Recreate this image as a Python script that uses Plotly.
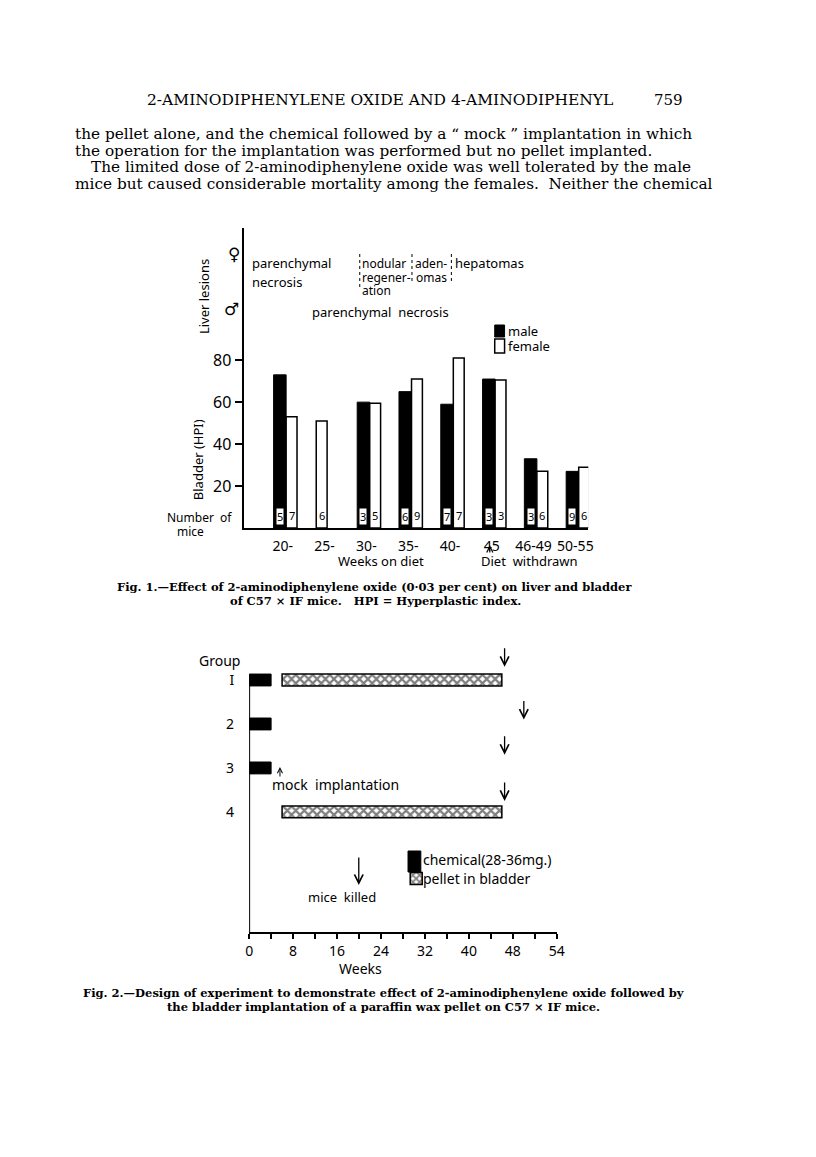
import plotly.graph_objects as go

# the page body adds an 8 px margin, so the figure is drawn 8 px in from the corner
FW, FH = 808, 1149
SANS = "Noto Sans"
SERIF = "DejaVu Serif"

# ---- Fig. 1 data: bladder HPI by weeks on diet ----
week_groups = ["20-", "25-", "30-", "35-", "40-", "45", "46-49", "50-55"]
male_hpi = [73, None, 60, 65, 59, 71, 33, 27]
female_hpi = [53, 51, 59.5, 71, 81, 70.5, 27, 29]
male_mice = ["5", "", "3", "6", "7", "3", "3", "9"]
female_mice = ["7", "6", "5", "9", "7", "3", "6", "6"]
hpi_ticks = [20, 40, 60, 80]

# ---- Fig. 2 data: experiment design ----
groups = [1, 2, 3, 4]
group_labels = ["I", "2", "3", "4"]
chemical_weeks = [4, 4, 4, None]
pellet_start = [6, None, None, 6]
pellet_end = [46, None, None, 46]
killed_week = [46.5, 50, 46.5, 46.5]
week_ticks = [0, 4, 8, 12, 16, 20, 24, 28, 32, 36, 40, 44, 48, 52, 56]
week_labels = ["0", "", "8", "", "16", "", "24", "", "32", "", "40", "", "48", "", "54"]

pellet_len = [e - s if s is not None else None for s, e in zip(pellet_start, pellet_end)]
idx = list(range(len(week_groups)))
female_offset = [0.08 if m is not None else -0.2 for m in male_hpi]


def px(x):
    return (x - 8) / FW


def py(y):
    return 1 - (y - 8) / FH


def note(text, x, y, size=13, xanchor="left", family=SANS, **kw):
    return dict(text=text, x=px(x), y=py(y), xref="paper", yref="paper",
                xanchor=xanchor, yanchor="middle", showarrow=False,
                font=dict(size=size, family=family, color="black"), **kw)


def arrow(x, y, ay, xref="paper", yref="paper", size=1.3, width=1.3):
    return dict(x=x, y=y, xref=xref, yref=yref, ax=0, ay=ay, text="", showarrow=True,
                arrowhead=5, arrowsize=size, arrowwidth=width, arrowcolor="black")


fig = go.Figure()

fig.add_trace(go.Bar(x=idx, y=male_hpi, width=0.3, offset=-0.22,
                     marker=dict(color="black", line=dict(color="black", width=1)),
                     showlegend=False, xaxis="x", yaxis="y"))
fig.add_trace(go.Bar(x=idx, y=female_hpi, width=0.26, offset=female_offset,
                     marker=dict(color="white", line=dict(color="black", width=1.5)),
                     showlegend=False, xaxis="x", yaxis="y"))

fig.add_trace(go.Bar(y=groups, x=chemical_weeks, base=0, orientation="h", width=0.27,
                     marker=dict(color="black", line=dict(color="black", width=1)),
                     name="chemical(28-36mg.)", showlegend=False, xaxis="x2", yaxis="y2"))
fig.add_trace(go.Bar(y=groups, x=pellet_len, base=pellet_start, orientation="h", width=0.27,
                     marker=dict(color="white", line=dict(color="black", width=1.5),
                                 pattern=dict(shape="x", fgcolor="black", bgcolor="white",
                                              size=6, solidity=0.6)),
                     name=" ", legend="legend2", xaxis="x2", yaxis="y2"))

ann = []

# mice counts at the foot of the bars
for i in idx:
    if male_mice[i]:
        ann.append(dict(text=male_mice[i], x=i - 0.07, y=0, xref="x", yref="y",
                        yanchor="bottom", yshift=3, showarrow=False, bgcolor="white",
                        borderpad=0, font=dict(size=11, family=SANS, color="black")))
    ann.append(dict(text=female_mice[i], x=i + female_offset[i] + 0.13, y=0, xref="x", yref="y",
                    yanchor="bottom", yshift=3, showarrow=False,
                    font=dict(size=11, family=SANS, color="black")))

# mice killed arrows
tip_shift = [0.3, 0.1, 0.3, 0.25]
for g, wk, s in zip(groups, killed_week, tip_shift):
    ann.append(arrow(wk, g - s, -20, xref="x2", yref="y2"))

# page text
ann += [
    note("2-AMINODIPHENYLENE OXIDE AND 4-AMINODIPHENYL", 382, 100, size=15.5, xanchor="center", family=SERIF),
    note("759", 691, 100, size=15, xanchor="right", family=SERIF),
    note("the pellet alone, and the chemical followed by a \u201c mock \u201d implantation in which", 70, 134, size=15.3, family=SERIF),
    note("the operation for the implantation was performed but no pellet implanted.", 70, 151, size=15.3, family=SERIF),
    note("The limited dose of 2-aminodiphenylene oxide was well tolerated by the male", 86, 167, size=15.3, family=SERIF),
    note("mice but caused considerable mortality among the females.  Neither the chemical", 70, 184, size=15.3, family=SERIF),
    note("<b>Fig. 1.\u2014Effect of 2-aminodiphenylene oxide (0\u00b703 per cent) on liver and bladder</b>", 376, 587, size=11.5, xanchor="center", family=SERIF),
    note("<b>of C57 \u00d7 IF mice.   HPI = Hyperplastic index.</b>", 377, 601, size=11.5, xanchor="center", family=SERIF),
    note("<b>Fig. 2.\u2014Design of experiment to demonstrate effect of 2-aminodiphenylene oxide followed by</b>", 385, 993, size=11.5, xanchor="center", family=SERIF),
    note("<b>the bladder implantation of a paraffin wax pellet on C57 \u00d7 IF mice.</b>", 385, 1007, size=11.5, xanchor="center", family=SERIF),
]

# Fig. 1 labels
ann += [
    note("Liver lesions", 203, 297, size=13, xanchor="center", textangle=-90),
    note("\u2640", 233, 254, size=17, xanchor="center", family="DejaVu Sans"),
    note("\u2642", 231, 309, size=17, xanchor="center", family="DejaVu Sans"),
    note("parenchymal", 250, 263),
    note("necrosis", 250, 282),
    note("nodular", 361, 263, size=12),
    note("regener-", 361, 277, size=12),
    note("ation", 361, 290, size=12),
    note("aden-", 415, 263, size=12),
    note("omas", 416, 277, size=12),
    note("hepatomas", 456, 263),
    note("parenchymal  necrosis", 310, 312),
    note("male", 509, 331),
    note("female", 509, 346),
    note("Bladder (HPI)", 197, 460, size=13, xanchor="center", textangle=-90),
    note("Number  of", 163, 517, size=12),
    note("mice", 189, 531, size=12, xanchor="center"),
    note("Weeks on diet", 383, 561, xanchor="center"),
    note("Diet  withdrawn", 482, 561),
    arrow(px(493), py(545), 9, size=1, width=1.2),
]

# Fig. 2 labels
ann += [
    note("Group", 219, 660, size=14, xanchor="center"),
    note("mock  implantation", 270, 784, size=14),
    arrow(px(280), py(767), 11, size=1, width=1),
    arrow(px(360), py(885), -29),
    note("mice  killed", 343, 897, size=13, xanchor="center"),
    note("Weeks", 362, 968, size=14, xanchor="center"),
    note("chemical(28-36mg.)", 423, 859, size=14),
    note("pellet in bladder", 423, 878, size=14),
]

shapes = [
    # top legend swatches
    dict(type="rect", xref="paper", yref="paper", x0=px(498), x1=px(508), y0=py(337), y1=py(325),
         fillcolor="black", line=dict(color="black", width=1)),
    dict(type="rect", xref="paper", yref="paper", x0=px(498), x1=px(508), y0=py(353), y1=py(339),
         fillcolor="white", line=dict(color="black", width=1.5)),
    # Fig. 2 chemical swatch
    dict(type="rect", xref="paper", yref="paper", x0=px(410), x1=px(423), y0=py(872), y1=py(851),
         fillcolor="black", line=dict(color="black", width=1)),
    # Fig. 2 vertical axis line
    dict(type="line", xref="x2", yref="y2", x0=0, x1=0, y0=0.886, y1=6.73,
         line=dict(color="black", width=2)),
]
for xd, y0, y1 in [(361, 254, 288), (414, 254, 284), (454, 254, 284)]:
    shapes.append(dict(type="line", xref="paper", yref="paper", x0=px(xd), x1=px(xd),
                       y0=py(y0), y1=py(y1), line=dict(color="black", width=1, dash="dot")))

fig.update_layout(
    width=FW, height=FH, margin=dict(l=0, r=0, t=0, b=0),
    paper_bgcolor="white", plot_bgcolor="rgba(0,0,0,0)",
    barmode="overlay",
    font=dict(family=SANS, color="black"),
    xaxis=dict(domain=[px(243), px(593)], range=[-0.94, 7.31], tickvals=idx, ticktext=week_groups,
               showline=True, linecolor="black", linewidth=2, ticks="", showgrid=False,
               zeroline=False, tickfont=dict(size=14), ticklabelstandoff=4, anchor="y"),
    yaxis=dict(domain=[py(528), py(228)], range=[0, 143], tickvals=hpi_ticks,
               showline=True, linecolor="black", linewidth=2, ticks="outside", ticklen=7,
               tickwidth=2, tickcolor="black", showgrid=False, zeroline=False,
               tickfont=dict(size=16), anchor="x"),
    xaxis2=dict(domain=[px(248.7), px(561)], range=[0, 56], tickvals=week_ticks, ticktext=week_labels,
                showline=True, linecolor="black", linewidth=2, ticks="outside", ticklen=5,
                tickwidth=1.5, tickcolor="black", showgrid=False, zeroline=False,
                tickfont=dict(size=14), anchor="y2"),
    yaxis2=dict(domain=[py(932), py(653.6)], range=[6.73, 0.4], tickvals=groups, ticktext=group_labels,
                showline=False, ticks="", showgrid=False, zeroline=False,
                tickfont=dict(size=14), ticklabelstandoff=14, anchor="x2"),
    legend2=dict(x=px(398), y=py(863), xanchor="left", yanchor="top",
                 font=dict(size=14, family=SANS), bgcolor="rgba(0,0,0,0)",
                 itemwidth=30, tracegroupgap=0),
    annotations=ann,
    shapes=shapes,
)

fig.write_html("out.html")
